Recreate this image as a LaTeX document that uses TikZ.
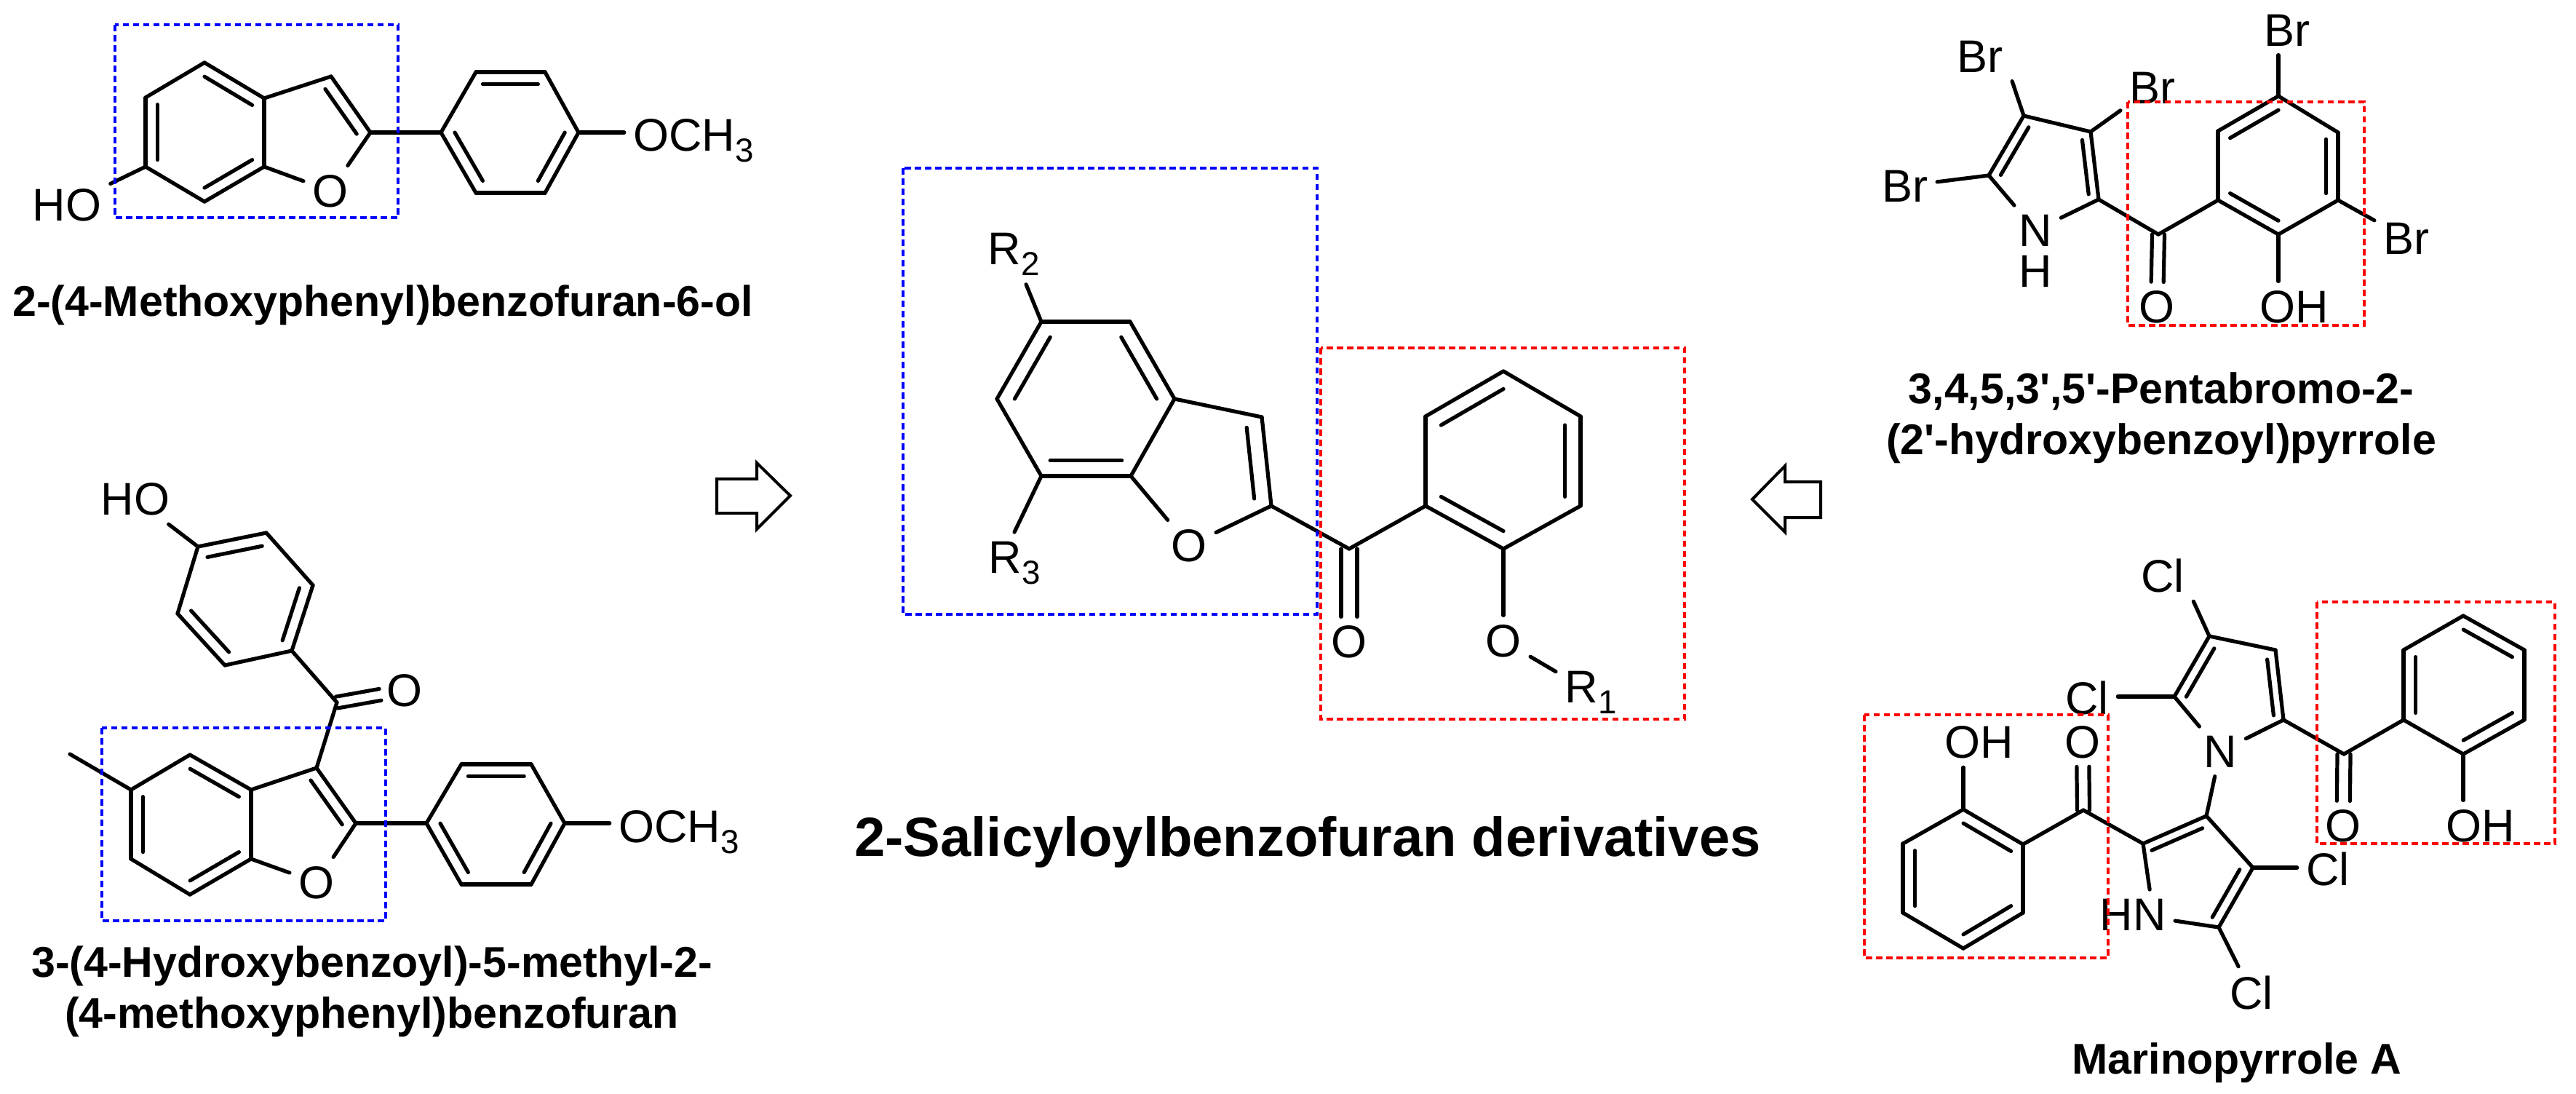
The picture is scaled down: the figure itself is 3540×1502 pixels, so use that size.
\documentclass[tikz,border=0pt]{standalone}
\usepackage{fontspec}
\usepackage{tikz}
\usetikzlibrary{calc,positioning}
\setmainfont{Liberation Sans}
\newcommand{\subnum}[1]{\raisebox{-.24em}{\fontsize{13}{14}\selectfont #1}}
\newcommand{\dbond}[3]{\draw (#1) -- (#2); \draw ($(#3)!.8!(#1)$) -- ($(#3)!.8!(#2)$);}
\newcommand{\cbond}[3]{\draw[shorten >=.34cm] ($(#1)!#3!90:(#2)$) -- ($(#2)!#3!-90:(#1)$); \draw[shorten >=.34cm] ($(#1)!#3!-90:(#2)$) -- ($(#2)!#3!90:(#1)$);}
\begin{document}
\begin{tikzpicture}[x=.01cm, y=-.01cm, line width=.052cm, line cap=round, node distance={.56cm},
  atom/.style = {anchor=base, inner sep=.1cm, font=\fontsize{17.9}{20}\selectfont},
  caption/.style = {anchor=base, inner sep=0pt, font=\fontsize{16.8}{19.9}\selectfont\bfseries},
  title/.style = {anchor=base, inner sep=0pt, font=\fontsize{21.6}{24}\selectfont\bfseries},
  bluebox/.style = {draw=blue, line width=.04cm, line cap=butt, dash pattern=on .085cm off .055cm},
  redbox/.style = {draw=red, line width=.04cm, line cap=butt, dash pattern=on .085cm off .055cm},
  openarrow/.style = {draw, line width=.04cm, line cap=butt, line join=miter}]
\useasboundingbox (0,0) rectangle (3540,1502);

\coordinate (a1) at (281,86);
\coordinate (a2) at (363,135);
\coordinate (a3) at (363,229);
\coordinate (a4) at (281,277);
\coordinate (a5) at (200,229);
\coordinate (a6) at (200,134);
\coordinate (a7) at (455,105);
\coordinate (a8) at (509,182);
\coordinate (a9) at (606,182);
\coordinate (a10) at (654,99);
\coordinate (a11) at (749,99);
\coordinate (a12) at (795,182);
\coordinate (a13) at (749,265);
\coordinate (a14) at (654,265);
\coordinate (ac1) at (281,182);
\coordinate (ac2) at (415,192);
\coordinate (ac3) at (701,182);
\node[atom] (aho) at (92,303) {HO};
\node[atom] (ao) at (454,284) {O};
\node[atom] (aoch) at (953,207) {OCH\subnum{3}};
\dbond{a1}{a2}{ac1}
\dbond{a3}{a4}{ac1}
\dbond{a5}{a6}{ac1}
\draw (a2) -- (a3);
\draw (a4) -- (a5);
\draw (a6) -- (a1);
\draw (a2) -- (a7);
\dbond{a7}{a8}{ac2}
\draw (a8) -- (ao);
\draw (a3) -- (ao);
\draw (a5) -- (aho);
\draw (a8) -- (a9);
\dbond{a10}{a11}{ac3}
\dbond{a12}{a13}{ac3}
\dbond{a14}{a9}{ac3}
\draw (a9) -- (a10);
\draw (a11) -- (a12);
\draw (a13) -- (a14);
\draw (a12) -- (a12 -| aoch.west);
\node[caption] (acap) at (526,434) {2-(4-Methoxyphenyl)benzofuran-6-ol};

\coordinate (b1) at (272,751);
\coordinate (b2) at (366,732);
\coordinate (b3) at (430,804);
\coordinate (b4) at (401,894);
\coordinate (b5) at (309,914);
\coordinate (b6) at (244,843);
\coordinate (b7) at (463,965);
\coordinate (b8) at (435,1055);
\coordinate (b9) at (489,1131);
\coordinate (b10) at (345,1085);
\coordinate (b11) at (261,1037);
\coordinate (b12) at (180,1085);
\coordinate (b13) at (180,1180);
\coordinate (b14) at (261,1229);
\coordinate (b15) at (345,1180);
\coordinate (b16) at (96,1036);
\coordinate (b17) at (586,1131);
\coordinate (b18) at (634,1050);
\coordinate (b19) at (730,1050);
\coordinate (b20) at (776,1131);
\coordinate (b21) at (730,1215);
\coordinate (b22) at (634,1215);
\coordinate (bc1) at (337,823);
\coordinate (bc2) at (395,1140);
\coordinate (bc3) at (262,1133);
\coordinate (bc4) at (681,1132);
\node[atom] (bho) at (186,707) {HO};
\node[atom] (bo1) at (556,970) {O};
\node[atom] (bo2) at (435,1234) {O};
\node[atom] (boch) at (933,1157) {OCH\subnum{3}};
\draw (bho) -- (b1);
\dbond{b1}{b2}{bc1}
\dbond{b3}{b4}{bc1}
\dbond{b5}{b6}{bc1}
\draw (b2) -- (b3);
\draw (b4) -- (b5);
\draw (b6) -- (b1);
\draw (b4) -- (b7);
\cbond{b7}{bo1}{.08cm}
\draw (b7) -- (b8);
\dbond{b8}{b9}{bc2}
\draw (b8) -- (b10);
\draw (b9) -- (bo2);
\draw (b15) -- (bo2);
\dbond{b11}{b10}{bc3}
\dbond{b12}{b13}{bc3}
\dbond{b14}{b15}{bc3}
\draw (b10) -- (b15);
\draw (b11) -- (b12);
\draw (b13) -- (b14);
\draw (b12) -- (b16);
\draw (b9) -- (b17);
\dbond{b18}{b19}{bc4}
\dbond{b20}{b21}{bc4}
\dbond{b22}{b17}{bc4}
\draw (b17) -- (b18);
\draw (b19) -- (b20);
\draw (b21) -- (b22);
\draw (b20) -- (b20 -| boch.west);
\node[caption, align=center] (bcap) at (511,1412) {3-(4-Hydroxybenzoyl)-5-methyl-2-\\(4-methoxyphenyl)benzofuran};

\coordinate (c1) at (1431,442);
\coordinate (c2) at (1553,442);
\coordinate (c3) at (1614,548);
\coordinate (c4) at (1554,654);
\coordinate (c5) at (1431,654);
\coordinate (c6) at (1370,548);
\coordinate (c7) at (1734,573);
\coordinate (c8) at (1747,695);
\coordinate (c9) at (1854,754);
\coordinate (c10) at (1959,695);
\coordinate (c11) at (1959,572);
\coordinate (c12) at (2066,510);
\coordinate (c13) at (2172,572);
\coordinate (c14) at (2172,695);
\coordinate (c15) at (2066,754);
\coordinate (cc1) at (1492,548);
\coordinate (cc2) at (1630,645);
\coordinate (cc3) at (2066,632);
\node[atom] (cr2) at (1393,363) {R\subnum{2}};
\node[atom] (cr3) at (1394,787) {R\subnum{3}};
\node[atom] (cr1) at (2186,965) {R\subnum{1}};
\node[atom] (co1) at (1634,771) {O};
\node[atom] (co2) at (1854,903) {O};
\node[atom] (co3) at (2066,902) {O};
\draw (cr2) -- (c1);
\draw (c1) -- (c2);
\dbond{c2}{c3}{cc1}
\draw (c3) -- (c4);
\dbond{c4}{c5}{cc1}
\draw (c5) -- (c6);
\dbond{c6}{c1}{cc1}
\draw (c5) -- (cr3.north);
\draw (c3) -- (c7);
\dbond{c7}{c8}{cc2}
\draw (c8) -- (co1);
\draw (c4) -- (co1);
\draw (c8) -- (c9);
\cbond{c9}{co2}{.11cm}
\draw (c9) -- (c10);
\draw (c10) -- (c11);
\dbond{c11}{c12}{cc3}
\draw (c12) -- (c13);
\dbond{c13}{c14}{cc3}
\draw (c14) -- (c15);
\dbond{c15}{c10}{cc3}
\draw (c15) -- (co3);
\draw (co3) -- (cr1);
\node[title] (ctitle) at (1797,1176) {2-Salicyloylbenzofuran derivatives};

\coordinate (d1) at (3131,132);
\coordinate (d2) at (3213,182);
\coordinate (d3) at (3213,275);
\coordinate (d4) at (3131,322);
\coordinate (d5) at (3048,275);
\coordinate (d6) at (3048,180);
\coordinate (d7) at (2966,322);
\coordinate (d8) at (2884,274);
\coordinate (d9) at (2873,181);
\coordinate (d10) at (2781,159);
\coordinate (d11) at (2733,241);
\coordinate (dc1) at (3131,228);
\coordinate (dc2) at (2815,238);
\node[atom] (dbr1) at (3143,63) {Br};
\node[atom] (dbr2) at (3307,349) {Br};
\node[atom] (dbr3) at (2958,142) {Br};
\node[atom] (dbr4) at (2721,99) {Br};
\node[atom] (dbr5) at (2618,277) {Br};
\node[atom] (dn) at (2797,338) {N};
\node[atom] (dh) [below of=dn] {H};
\node[atom] (do1) at (2964,443) {O};
\node[atom] (do2) at (3153,443) {OH};
\dbond{d6}{d1}{dc1}
\draw (d1) -- (d2);
\dbond{d2}{d3}{dc1}
\draw (d3) -- (d4);
\dbond{d4}{d5}{dc1}
\draw (d5) -- (d6);
\draw (d1) -- (d1 |- dbr1.south);
\draw (d3) -- (dbr2);
\draw (d4) -- (d4 |- do2.north);
\draw (d5) -- (d7);
\cbond{d7}{do1}{.085cm}
\draw (d7) -- (d8);
\dbond{d8}{d9}{dc2}
\draw (d9) -- (d10);
\dbond{d10}{d11}{dc2}
\draw (d11) -- (dn);
\draw (d8) -- (dn);
\draw (d9) -- (dbr3);
\draw (d10) -- (dbr4.south east);
\draw (d11) -- (dbr5);
\node[caption, align=center] (dcap) at (2970,624) {3,4,5,3\textquotesingle,5\textquotesingle-Pentabromo-2-\\(2\textquotesingle-hydroxybenzoyl)pyrrole};

\coordinate (e1) at (3036,874);
\coordinate (e2) at (3127,893);
\coordinate (e3) at (3138,989);
\coordinate (e4) at (2988,957);
\coordinate (e5) at (3221,1036);
\coordinate (e6) at (3303,989);
\coordinate (e7) at (3303,893);
\coordinate (e8) at (3385,846);
\coordinate (e9) at (3469,893);
\coordinate (e10) at (3469,989);
\coordinate (e11) at (3385,1036);
\coordinate (e12) at (3032,1121);
\coordinate (e13) at (3096,1192);
\coordinate (e14) at (3049,1274);
\coordinate (e15) at (2945,1159);
\coordinate (e16) at (2863,1113);
\coordinate (e17) at (2780,1160);
\coordinate (e18) at (2698,1112);
\coordinate (e19) at (2615,1159);
\coordinate (e20) at (2615,1254);
\coordinate (e21) at (2698,1303);
\coordinate (e22) at (2780,1254);
\coordinate (ec1) at (3070,958);
\coordinate (ec2) at (3386,941);
\coordinate (ec3) at (3005,1205);
\coordinate (ec4) at (2698,1207);
\node[atom] (ecl1) at (2972,813) {Cl};
\node[atom] (ecl2) at (2868,981) {Cl};
\node[atom] (ecl3) at (3199,1216) {Cl};
\node[atom] (ecl4) at (3094,1386) {Cl};
\node[atom] (en) at (3051,1054) {N};
\node[atom] (ehn) at (2931,1278) {HN};
\node[atom] (eo1) at (2862,1041) {O};
\node[atom] (eo2) at (3220,1156) {O};
\node[atom] (eoh1) at (2720,1041) {OH};
\node[atom] (eoh2) at (3409,1156) {OH};
\draw (e1) -- (ecl1.south east);
\draw (e4) -- (e4 -| ecl2.east);
\dbond{e1}{e4}{ec1}
\draw (e1) -- (e2);
\dbond{e2}{e3}{ec1}
\draw (e3) -- (en);
\draw (e4) -- (en);
\draw (en) -- (e12);
\draw (e3) -- (e5);
\cbond{e5}{eo2}{.09cm}
\draw (e5) -- (e6);
\dbond{e6}{e7}{ec2}
\draw (e7) -- (e8);
\dbond{e8}{e9}{ec2}
\draw (e9) -- (e10);
\dbond{e10}{e11}{ec2}
\draw (e11) -- (e6);
\draw (e11) -- (e11 |- eoh2.north);
\dbond{e12}{e15}{ec3}
\draw (e12) -- (e13);
\dbond{e13}{e14}{ec3}
\draw (e13) -- (e13 -| ecl3.west);
\draw (e14) -- (ecl4);
\draw (e14) -- (ehn);
\draw (e15) -- (ehn.56);
\draw (e15) -- (e16);
\cbond{e16}{eo1}{.085cm}
\draw (e16) -- (e17);
\dbond{e17}{e18}{ec4}
\draw (e18) -- (e19);
\dbond{e19}{e20}{ec4}
\draw (e20) -- (e21);
\dbond{e21}{e22}{ec4}
\draw (e22) -- (e17);
\draw (e18) -- (e18 |- eoh1.south);
\node[caption] (ecap) at (3074,1475) {Marinopyrrole A};

\draw[openarrow] (985,658) -- (1040,658) -- (1040,636) -- (1086,681) -- (1040,727) -- (1040,705) -- (985,705) -- cycle;
\draw[openarrow] (2502,662) -- (2453,662) -- (2453,640) -- (2408,686) -- (2453,731) -- (2453,711) -- (2502,711) -- cycle;

\draw[bluebox] (158,34) rectangle (547,299);
\draw[bluebox] (140,1000) rectangle (530,1265);
\draw[bluebox] (1241,231) rectangle (1810,844);
\draw[redbox] (1815,478) rectangle (2315,988);
\draw[redbox] (2924,140) rectangle (3249,447);
\draw[redbox] (2562,982) rectangle (2897,1316);
\draw[redbox] (3184,827) rectangle (3511,1159);
\end{tikzpicture}
\end{document}
